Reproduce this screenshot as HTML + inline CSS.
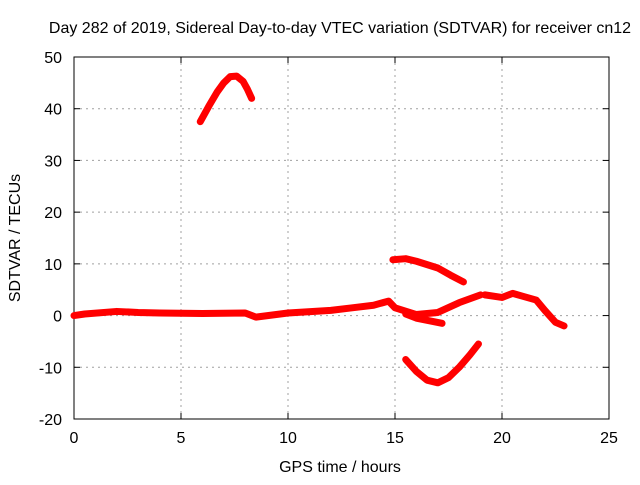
<!DOCTYPE html>
<html><head><meta charset="utf-8"><style>
body{margin:0;background:#fff}
svg text{font-family:"Liberation Sans",sans-serif;font-size:16px;fill:#000}
</style></head><body>
<svg id="c" width="640" height="480"></svg>
<script>
const xTicks=[0,5,10,15,20,25];
const yTicks=[-20,-10,0,10,20,30,40,50];
const seriesMain=[[0,0],[0.5,0.3],[2,0.8],[3,0.6],[4,0.5],[6,0.4],[8,0.5],[8.5,-0.3],[10,0.5],[12,1],[13,1.5],[14,2],[14.7,2.8],[15,1.5],[16,0.2],[17,0.6],[18,2.5],[19,4]];
const seriesLowBranch=[[15.5,0.3],[16,-0.5],[17.2,-1.5]];
const seriesLate=[[19.2,4],[20,3.5],[20.5,4.3],[21,3.7],[21.6,3],[22,1],[22.5,-1.3],[22.9,-2]];
const seriesUpper=[[14.9,10.8],[15.5,11],[16,10.5],[17,9.2],[17.6,7.8],[18.2,6.5]];
const seriesDip=[[15.5,-8.5],[16,-10.8],[16.5,-12.5],[17,-13],[17.5,-12],[18,-10],[18.5,-7.6],[18.9,-5.5]];
const seriesPeak=[[5.9,37.5],[6.3,40.5],[6.7,43.3],[7,45],[7.3,46.2],[7.6,46.3],[7.9,45.3],[8.1,43.8],[8.3,42]];
const allSeries=[seriesMain,seriesLowBranch,seriesLate,seriesUpper,seriesDip,seriesPeak];
const X=v=>74+v*(609-74)/25, Y=v=>57+(50-v)*(419-57)/70;
const s=document.getElementById('c');const NS='http://www.w3.org/2000/svg';
function mk(t,a,txt){const e=document.createElementNS(NS,t);for(const k in a)e.setAttribute(k,a[k]);if(txt!==undefined)e.textContent=txt;s.appendChild(e);return e;}
xTicks.forEach(v=>{if(v>0&&v<25){const g=mk('line',{x1:X(v),x2:X(v),y1:57,y2:419,stroke:'#a0a0a0','stroke-dasharray':'2,4'});}
 const t=mk('text',{x:X(v),y:443,'text-anchor':'middle'},v);
 mk('line',{x1:X(v),x2:X(v),y1:419,y2:413,stroke:'#000'});mk('line',{x1:X(v),x2:X(v),y1:57,y2:63,stroke:'#000'});});
yTicks.forEach(v=>{if(v>-20&&v<50){const g=mk('line',{x1:74,x2:609,y1:Y(v),y2:Y(v),stroke:'#a0a0a0','stroke-dasharray':'2,4'});}
 const t=mk('text',{x:62,y:Y(v)+6,'text-anchor':'end'},v);
 mk('line',{x1:74,x2:80,y1:Y(v),y2:Y(v),stroke:'#000'});mk('line',{x1:603,x2:609,y1:Y(v),y2:Y(v),stroke:'#000'});});
const fr=mk('rect',{x:74,y:57,width:535,height:362,fill:'none',stroke:'#000'});
allSeries.forEach(sr=>{const p=mk('polyline',{points:sr.map(d=>X(d[0])+','+Y(d[1])).join(' '),fill:'none',stroke:'#f00','stroke-width':7,'stroke-linejoin':'round','stroke-linecap':'round'});
 });
const ti=mk('text',{x:340,y:33,'text-anchor':'middle'},'Day 282 of 2019, Sidereal Day-to-day VTEC variation (SDTVAR) for receiver cn12');
const xl=mk('text',{x:340,y:472,'text-anchor':'middle'},'GPS time / hours');
const yl=mk('text',{x:20,y:238,'text-anchor':'middle',transform:'rotate(-90 20 238)'},'SDTVAR / TECUs');
</script></body></html>
